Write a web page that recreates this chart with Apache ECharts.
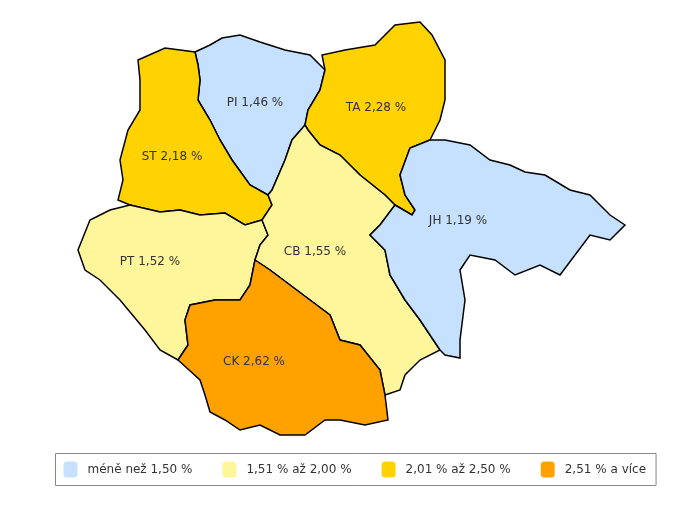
<!DOCTYPE html>
<html><head><meta charset="utf-8">
<script src="https://cdn.jsdelivr.net/npm/echarts@6/dist/echarts.min.js"></script>
<style>html,body{margin:0;background:#fff}#box{width:691px;height:508px}</style>
</head><body><div id="box"></div>
<script>
var okresy = ['PI', 'TA', 'ST', 'PT', 'CB', 'JH', 'CK'];
var hodnoty = [1.46, 2.28, 2.18, 1.52, 1.55, 1.19, 2.62];
var legenda = ['méně než 1,50 %', '1,51 % až 2,00 %', '2,01 % až 2,50 %', '2,51 % a více'];
var barvy = ['#c6e0ff', '#fff59a', '#ffd200', '#ffa200'];

// obrysy okresu (pixelove souradnice, jen tvar mapy) + stred popisku
var tvary = {
  ST: [[138,60],[165,48],[195,52],[198,65],[200,80],[198,100],[210,120],[220,140],[232,160],[250,185],[268,195],[272,205],[262,220],[245,225],[225,213],[200,215],[180,210],[160,212],[130,205],[118,200],[123,180],[120,160],[128,130],[140,110],[140,80]],
  PI: [[195,52],[210,45],[222,38],[240,35],[260,42],[285,50],[310,55],[325,70],[320,90],[308,110],[305,125],[292,140],[285,160],[272,190],[268,195],[250,185],[232,160],[220,140],[210,120],[198,100],[200,80],[198,65]],
  TA: [[325,70],[322,55],[345,50],[375,45],[395,25],[420,22],[432,35],[445,60],[445,100],[440,120],[430,140],[410,148],[400,175],[405,195],[415,210],[412,215],[395,205],[385,195],[360,175],[340,155],[320,145],[308,130],[305,125],[308,110],[320,90]],
  CB: [[292,140],[305,125],[308,130],[320,145],[340,155],[360,175],[385,195],[395,205],[380,225],[370,235],[385,250],[390,275],[405,300],[420,320],[440,350],[420,360],[405,375],[400,390],[385,395],[380,370],[360,345],[340,340],[330,315],[310,300],[290,285],[270,270],[255,260],[260,245],[268,235],[262,220],[272,205],[268,195],[272,190],[285,160]],
  JH: [[395,205],[412,215],[415,210],[405,195],[400,175],[410,148],[430,140],[445,140],[470,145],[490,160],[510,165],[525,172],[545,175],[570,190],[590,195],[610,215],[625,225],[610,240],[590,235],[575,255],[560,275],[540,265],[515,275],[495,260],[470,255],[460,270],[465,300],[460,340],[460,358],[445,355],[440,350],[420,320],[405,300],[390,275],[385,250],[370,235],[380,225]],
  PT: [[130,205],[160,212],[180,210],[200,215],[225,213],[245,225],[262,220],[268,235],[260,245],[255,260],[250,285],[240,300],[215,300],[190,305],[185,320],[188,345],[178,360],[160,350],[145,330],[120,300],[100,280],[85,270],[78,250],[90,220],[110,210]],
  CK: [[255,260],[270,270],[290,285],[310,300],[330,315],[340,340],[360,345],[380,370],[385,395],[388,420],[365,425],[340,420],[325,420],[305,435],[280,435],[260,425],[240,430],[225,420],[210,412],[205,395],[200,380],[178,360],[188,345],[185,320],[190,305],[215,300],[240,300],[250,285]]
};
var stredy = {PI: [255,103], TA: [376,108], ST: [172,157], PT: [150,262], CB: [315,252], JH: [458,221], CK: [254,362]};
var geo = {type: 'FeatureCollection', features: okresy.map(function (k) {
  var p = tvary[k].slice(); p.push(p[0]);
  return {type: 'Feature', properties: {name: k, cp: stredy[k]}, geometry: {type: 'Polygon', coordinates: [p]}};
})};
echarts.registerMap('kraj', geo);

var mychart = echarts.init(document.getElementById('box'));
var option = {
  backgroundColor: '#fff',
  animation: false,
  visualMap: {
    type: 'piecewise',
    orient: 'horizontal',
    left: 55, top: 453,
    padding: [8, 10, 8, 8],
    itemWidth: 14, itemHeight: 16,
    itemGap: 30,
    borderColor: '#888', borderWidth: 1,
    backgroundColor: '#fff',
    shadowColor: 'rgba(0,0,0,0.3)', shadowBlur: 3, shadowOffsetX: 2, shadowOffsetY: 2,
    textStyle: {color: '#333', fontFamily: 'Verdana, DejaVu Sans', fontSize: 12},
    pieces: [
      {lt: 1.505, label: legenda[0], color: barvy[0]},
      {gte: 1.505, lt: 2.005, label: legenda[1], color: barvy[1]},
      {gte: 2.005, lt: 2.505, label: legenda[2], color: barvy[2]},
      {gte: 2.505, label: legenda[3], color: barvy[3]}
    ]
  },
  series: [{
    type: 'map',
    map: 'kraj',
    projection: {project: function (p) { return p; }, unproject: function (p) { return p; }},
    left: 78, top: 22, width: 547, height: 413,
    selectedMode: false,
    itemStyle: {borderColor: '#000', borderWidth: 1.5},
    emphasis: {disabled: true},
    label: {
      show: true, color: '#333', fontSize: 12, fontFamily: 'Verdana, DejaVu Sans',
      formatter: function (p) { return p.name + ' ' + p.value.toFixed(2).replace('.', ',') + ' %'; }
    },
    data: okresy.map(function (k, i) { return {name: k, value: hodnoty[i]}; })
  }]
};
mychart.setOption(option);
</script></body></html>
